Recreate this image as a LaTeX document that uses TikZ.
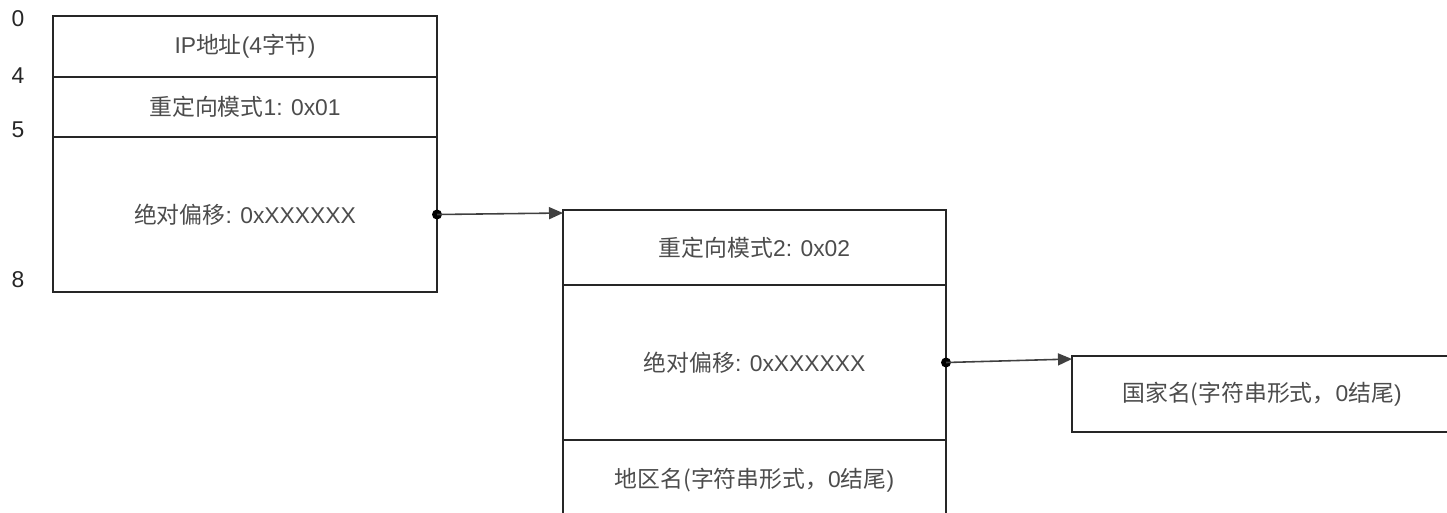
\documentclass[tikz,border=0pt]{standalone}
\usepackage{fontspec}
\setmainfont{Liberation Sans}
\newfontfamily\cjk{Noto Sans CJK SC}
\usetikzlibrary{arrows.meta,positioning}

\tikzset{
	cell/.style={draw=black!85,line width=0.8pt,minimum width=7.68cm,inner sep=0pt,outer sep=0pt,text=black!70,font=\fontsize{13}{15}\selectfont},
	offs/.style={text=black!85,font=\fontsize{13}{15}\selectfont},
	ptr/.style={draw=black!75,line width=0.9pt,-{Triangle[length=0.28cm,width=0.24cm]}},
}

\begin{document}
\begin{tikzpicture}
	\useasboundingbox (0,0) rectangle (28.94,-10.24);
	% first record
	\node[cell,minimum height=1.22cm,anchor=north west] (ip) at (1.06,-0.32) {IP{\cjk 地址}(4{\cjk 字节})};
	\node[cell,minimum height=1.2cm,below=0cm of ip] (mode1) {{\cjk 重定向模式}1: 0x01};
	\node[cell,minimum height=3.1cm,below=0cm of mode1] (off1) {{\cjk 绝对偏移}: 0xXXXXXX};
	\node[offs] (o0) at (0.36,-0.38) {0};
	\node[offs] (o4) at (0.36,-1.52) {4};
	\node[offs] (o5) at (0.36,-2.6) {5};
	\node[offs] (o8) at (0.36,-5.6) {8};
	% second record
	\node[cell,minimum width=7.66cm,minimum height=1.5cm,anchor=north west] (mode2) at (11.26,-4.2) {{\cjk 重定向模式}2: 0x02};
	\node[cell,minimum width=7.66cm,minimum height=3.1cm,below=0cm of mode2] (off2) {{\cjk 绝对偏移}: 0xXXXXXX};
	\node[cell,minimum width=7.66cm,minimum height=1.6cm,below=0cm of off2] (area) {{\cjk 地区名(字符串形式，}0{\cjk 结尾})};
	% country
	\node[cell,minimum width=7.6cm,minimum height=1.52cm,anchor=north west] (country) at (21.44,-7.12) {{\cjk 国家名(字符串形式，}0{\cjk 结尾})};
	% pointers
	\fill[black] (off1.east) circle (0.1);
	\draw[ptr] (off1.east) -- ([yshift=-0.06cm]mode2.north west);
	\fill[black] (off2.east) circle (0.1);
	\draw[ptr] (off2.east) -- ([yshift=-0.06cm]country.north west);
\end{tikzpicture}
\end{document}
